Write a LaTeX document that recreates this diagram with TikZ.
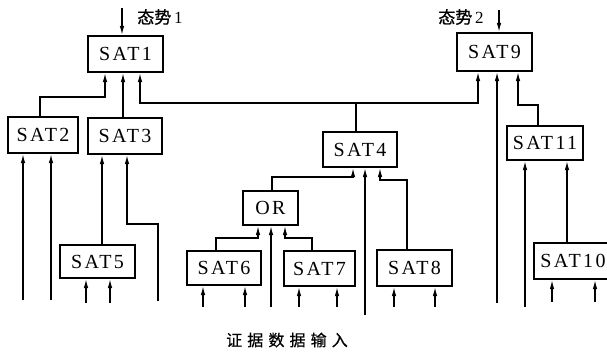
\documentclass[tikz,border=0pt]{standalone}
\usepackage{fontspec}
\setmainfont{Liberation Serif}
\newfontfamily\boxfont{Liberation Serif}[LetterSpace=12]
\newfontfamily\cjk{Noto Sans CJK SC}[FakeBold=0.8]
\newfontfamily\cjkwide{Noto Sans CJK SC}[LetterSpace=32,FakeBold=0.6]
\usetikzlibrary{arrows.meta}
\begin{document}
\begin{tikzpicture}[x=1pt,y=-1pt,
  box/.style={draw,line width=2.2pt,inner sep=0pt,fill=white,
    font=\boxfont\fontsize{20}{22}\selectfont},
  wire/.style={line width=1.2pt},
  arr/.style={wire,-{Latex[length=9pt,width=4.5pt]}},
  lbl/.style={inner sep=0pt,font=\cjk\fontsize{17}{19}\selectfont},
]
\useasboundingbox (0,0) rectangle (607,356);

% boxes
\node[box,minimum width=75pt,minimum height=36pt] (SAT1) at (125.5,54) {SAT1};
\node[box,minimum width=70pt,minimum height=36pt] (SAT2) at (43,135) {SAT2};
\node[box,minimum width=74pt,minimum height=36pt] (SAT3) at (125,136) {SAT3};
\node[box,minimum width=75pt,minimum height=33pt] (SAT5) at (97.5,261.5) {SAT5};
\node[box,minimum width=74pt,minimum height=35pt] (SAT4) at (360,149.5) {SAT4};
\node[box,minimum width=55pt,minimum height=34pt] (OR) at (270.5,208) {OR};
\node[box,minimum width=74pt,minimum height=34pt] (SAT6) at (224,268) {SAT6};
\node[box,minimum width=71pt,minimum height=35pt] (SAT7) at (319.5,268.5) {SAT7};
\node[box,minimum width=75pt,minimum height=36pt] (SAT8) at (414.5,268) {SAT8};
\node[box,minimum width=75pt,minimum height=38pt] (SAT9) at (494.5,52) {SAT9};
\node[box,minimum width=76pt,minimum height=34pt] (SAT11) at (545,143) {SAT11};
\node[box,minimum width=78pt,minimum height=36pt] (SAT10) at (573,261) {SAT10};

% labels
\node[lbl] (L1) at (160,17) {态势\,{\rmfamily 1}};
\node[lbl] (L2) at (461,17) {态势\,{\rmfamily 2}};
\node[inner sep=0pt,font=\cjkwide\fontsize{16}{18}\selectfont] (L3) at (287,340) {证据数据输入};

% free ends
\coordinate (t1) at (122,8);
\coordinate (t2) at (499,10);
\coordinate (e2a) at (23,300);
\coordinate (e2b) at (51,300);
\coordinate (e3) at (158,301);
\coordinate (e5a) at (86,303);
\coordinate (e5b) at (110,303);
\coordinate (e4) at (365,315);
\coordinate (eor) at (271,307);
\coordinate (e6a) at (203,307);
\coordinate (e6b) at (245,307);
\coordinate (e7a) at (299,307);
\coordinate (e7b) at (337,307);
\coordinate (e8a) at (394,307);
\coordinate (e8b) at (435,307);
\coordinate (e9) at (497,303);
\coordinate (e11) at (525,307);
\coordinate (e10a) at (552,302);
\coordinate (e10b) at (595,302);

% top situation inputs
\draw[arr] (t1) -- (SAT1.north -| t1);
\draw[arr] (t2) -- (SAT9.north -| t2);

% level connections
\draw[arr] (SAT2.north -| 40,0) |- (105,97) -- (SAT1.south -| 105,0);
\draw[arr] (SAT3.north -| 123,0) -- (SAT1.south -| 123,0);
\draw[arr] (SAT4.north -| 356,0) |- (140,103) -- (SAT1.south -| 140,0);
\draw[arr] (356,103) -| (SAT9.south -| 478,0);
\draw[arr] (e9) -- (SAT9.south -| e9);
\draw[arr] (SAT11.north -| 538,0) |- (518,105) -- (SAT9.south -| 518,0);

\draw[arr] (e2a) -- (SAT2.south -| e2a);
\draw[arr] (e2b) -- (SAT2.south -| e2b);
\draw[arr] (SAT5.north -| 102,0) -- (SAT3.south -| 102,0);
\draw[arr] (e3) |- (127,224) -- (SAT3.south -| 127,0);
\draw[arr] (e5a) -- (SAT5.south -| e5a);
\draw[arr] (e5b) -- (SAT5.south -| e5b);

\draw[arr] (OR.north -| 272,0) |- (353,177) -- (SAT4.south -| 353,0);
\draw[arr] (e4) -- (SAT4.south -| e4);
\draw[arr] (SAT8.north -| 407,0) |- (380,180) -- (SAT4.south -| 380,0);

\draw[arr] (SAT6.north -| 216,0) |- (258,238) -- (OR.south -| 258,0);
\draw[arr] (eor) -- (OR.south -| eor);
\draw[arr] (SAT7.north -| 312,0) |- (285,238) -- (OR.south -| 285,0);

\draw[arr] (e6a) -- (SAT6.south -| e6a);
\draw[arr] (e6b) -- (SAT6.south -| e6b);
\draw[arr] (e7a) -- (SAT7.south -| e7a);
\draw[arr] (e7b) -- (SAT7.south -| e7b);
\draw[arr] (e8a) -- (SAT8.south -| e8a);
\draw[arr] (e8b) -- (SAT8.south -| e8b);

\draw[arr] (e11) -- (SAT11.south -| e11);
\draw[arr] (SAT10.north -| 567,0) -- (SAT11.south -| 567,0);
\draw[arr] (e10a) -- (SAT10.south -| e10a);
\draw[arr] (e10b) -- (SAT10.south -| e10b);
\end{tikzpicture}
\end{document}
